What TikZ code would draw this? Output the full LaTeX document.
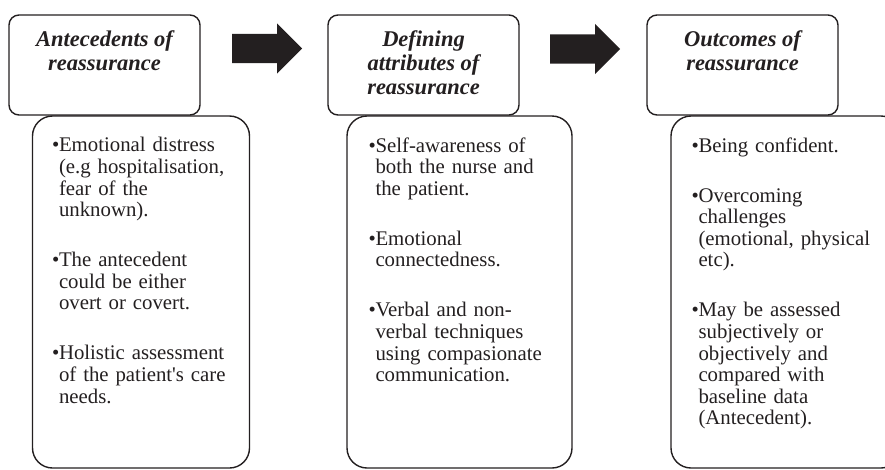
\documentclass[tikz,border=0pt]{standalone}
\usepackage{fontspec}
\setmainfont{Liberation Serif}
\usepackage{xcolor}
\usetikzlibrary{shapes.arrows,positioning}
\definecolor{ink}{RGB}{35,31,32}

\newcommand{\itm}[1]{\noindent\hangindent=7pt\hangafter=1\makebox[7pt][l]{\textbullet}#1\par}
\newcommand{\gap}{\vspace{28.4pt}}

\begin{document}
\begin{tikzpicture}[x=1pt,y=-1pt,
  headbox/.style={draw=ink,line width=1.4pt,rounded corners=10pt,minimum width=191pt,minimum height=100pt,inner sep=0pt},
  bodybox/.style={draw=ink,line width=1.4pt,rounded corners=20pt,minimum height=352pt,inner sep=0pt},
  headtext/.style={text=ink,font=\fontsize{22.5}{24}\selectfont\bfseries\itshape,align=center,inner sep=0pt,anchor=north},
  bodytext/.style={text=ink,font=\fontsize{20.8}{21.6}\selectfont,text width=200pt,align=left,inner sep=0pt,anchor=north west},
  blockarrow/.style={single arrow,fill=ink,draw=none,minimum height=70pt,inner xsep=0pt,inner ysep=14.5pt,single arrow head extend=10.5pt,anchor=tail}]
\useasboundingbox (0,0) rectangle (885,469);
\clip (0,0) rectangle (885,469);

\node[headbox] (h1) at (104.5,65) {};
\node[headbox] (h2) at (423.5,65) {};
\node[headbox] (h3) at (742.5,65) {};

\node[bodybox,minimum width=217pt] (b1) at (141,292) {};
\node[bodybox,minimum width=225pt] (b2) at (459.5,292) {};
\node[bodybox,minimum width=230pt] (b3) at (786,292) {};

\node[blockarrow] (ar1) at (232,48.5) {};
\node[blockarrow] (ar2) at (550,49) {};

\node[headtext] (h1t) at ([yshift=-16pt]h1.north) {Antecedents of\\reassurance};
\node[headtext] (h2t) at ([yshift=-16pt]h2.north) {Defining\\attributes of\\reassurance};
\node[headtext] (h3t) at ([yshift=-16pt]h3.north) {Outcomes of\\reassurance};

\node[bodytext] (b1t) at ([xshift=20pt,yshift=-22pt]b1.north west) {%
\itm{Emotional distress\newline (e.g hospitalisation,\newline fear of the\newline unknown).}\gap
\itm{The antecedent\newline could be either\newline overt or covert.}\gap
\itm{Holistic assessment\newline of the patient\textquotesingle s care\newline needs.}};
\node[bodytext] (b2t) at ([xshift=22pt,yshift=-22pt]b2.north west) {%
\itm{Self-awareness of\newline both the nurse and\newline the patient.}\gap
\itm{Emotional\newline connectedness.}\gap
\itm{Verbal and non-\newline verbal techniques\newline using compasionate\newline communication.}};
\node[bodytext] (b3t) at ([xshift=21pt,yshift=-22pt]b3.north west) {%
\itm{Being confident.}\gap
\itm{Overcoming\newline challenges\newline (emotional, physical\newline etc).}\gap
\itm{May be assessed\newline subjectively or\newline objectively and\newline compared with\newline baseline data\newline (Antecedent).}};
\end{tikzpicture}
\end{document}
